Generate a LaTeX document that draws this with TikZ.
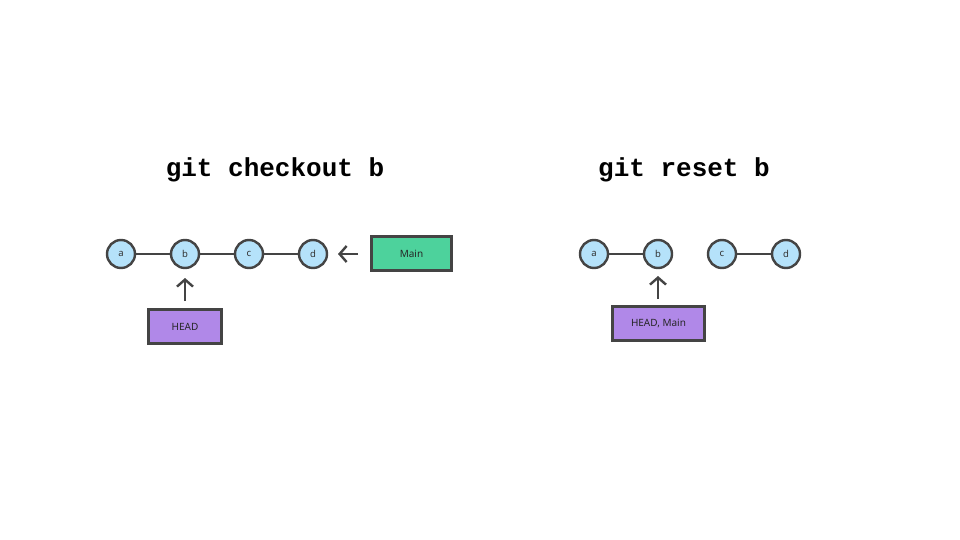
\documentclass[tikz,border=0pt]{standalone}
\usepackage{fontspec}
\setmainfont{Noto Sans}
\newfontfamily\codefont{Liberation Mono}
\usetikzlibrary{arrows.meta}
\definecolor{edgegray}{HTML}{444444}
\definecolor{commitblue}{HTML}{B5E2FA}
\definecolor{mainGreen}{HTML}{4DD29C}
\definecolor{headPurple}{HTML}{B088E8}
\tikzset{
  commit/.style={circle, draw=edgegray, line width=2.4pt, fill=commitblue,
    minimum size=28pt, inner sep=0pt, font=\fontsize{9.5}{9.5}\selectfont, text=black!80},
  refbox/.style={draw=edgegray, line width=2.4pt, inner sep=0pt,
    font=\fontsize{10}{10}\selectfont, text=black!85},
  link/.style={draw=edgegray, line width=1.6pt},
  pointer/.style={draw=edgegray, line width=2.4pt,
    -{Straight Barb[length=7pt, width=16pt, line width=2.4pt]}},
  title/.style={font=\codefont\bfseries\fontsize{26}{26}\selectfont}
}
\begin{document}
\begin{tikzpicture}[x=1pt, y=-1pt]
  \useasboundingbox (0,0) rectangle (960,540);
  \fill[white] (0,0) rectangle (960,540);

  % checkout: HEAD moves, Main stays at d
  \node[title] (t1) at (275,170) {git checkout b};
  \node[commit] (a1) at (121,254) {a};
  \node[commit] (b1) at (185,254) {b};
  \node[commit] (c1) at (249,254) {c};
  \node[commit] (d1) at (313,254) {d};
  \draw[link] (a1) -- (b1);
  \draw[link] (b1) -- (c1);
  \draw[link] (c1) -- (d1);
  \node[refbox, fill=mainGreen, minimum width=80pt, minimum height=34pt] (main1) at (411.5,253.5) {Main};
  \node[refbox, fill=headPurple, minimum width=73pt, minimum height=34pt] (head1) at (185,326.5) {HEAD};
  \coordinate (m1from) at (358,254);
  \coordinate (m1to) at (338,254);
  \draw[pointer] (m1from) -- (m1to);
  \coordinate (h1from) at (185,301);
  \coordinate (h1to) at (185,278);
  \draw[pointer] (h1from) -- (h1to);

  % reset: HEAD and Main both move to b
  \node[title] (t2) at (684,170) {git reset b};
  \node[commit] (a2) at (594,254) {a};
  \node[commit] (b2) at (658,254) {b};
  \node[commit] (c2) at (722,254) {c};
  \node[commit] (d2) at (786,254) {d};
  \draw[link] (a2) -- (b2);
  \draw[link] (c2) -- (d2);
  \node[refbox, fill=headPurple, minimum width=92pt, minimum height=34pt] (head2) at (658.5,323.5) {HEAD, Main};
  \coordinate (h2from) at (658,299);
  \coordinate (h2to) at (658,276);
  \draw[pointer] (h2from) -- (h2to);
\end{tikzpicture}
\end{document}
